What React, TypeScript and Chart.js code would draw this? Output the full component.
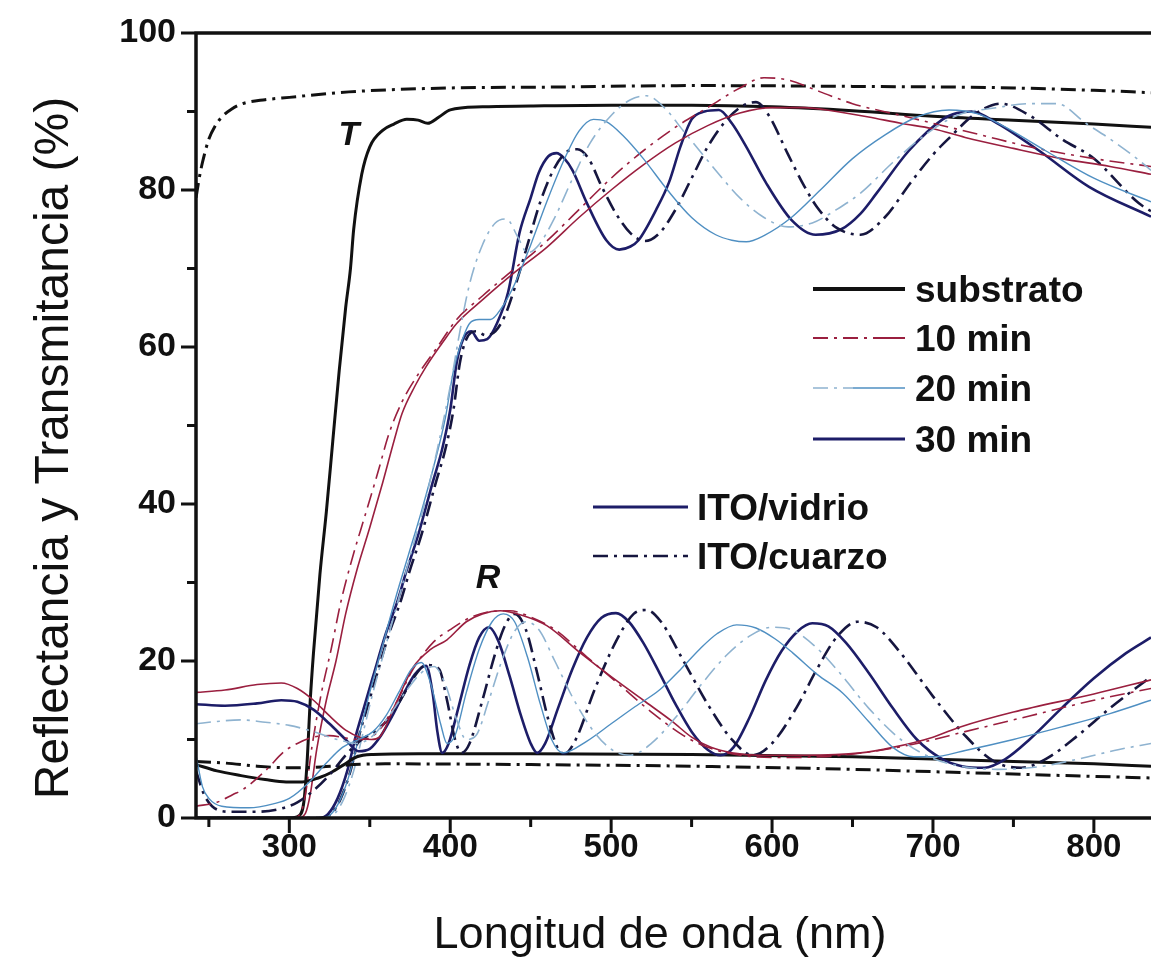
import React, { useEffect, useRef } from 'react';
import { Chart, registerables } from 'chart.js';

Chart.register(...registerables);

type Pt = [number, number];

// Axis values
const X_MIN = 242;
const X_MAX = 835.5;
const xTicks = [300, 400, 500, 600, 700, 800];
const xMinorTicks = [250, 350, 450, 550, 650, 750, 850];
const yTicks = [0, 20, 40, 60, 80, 100];
const yMinorTicks = [10, 30, 50, 70, 90];

const xTitle = 'Longitud de onda (nm)';
const yTitle = 'Reflectancia y Transmitancia (%)';
const legendTimes = ['substrato', '10 min', '20 min', '30 min'];
const legendSubstrates = ['ITO/vidrio', 'ITO/cuarzo'];

// ---------- Transmittance (T) ----------
const tSubGlass: Pt[] = [
  [242, 0], [300, 0], [306, 0.3], [309, 2], [311, 7], [313, 15], [315, 21], [319, 31], [323, 39],
  [327, 48], [331, 57], [335, 65], [338, 70], [340, 75], [345, 82], [350, 85.5], [358, 87.6],
  [365, 88.4], [373, 89], [380, 88.9], [386, 88.5], [393, 89.3], [400, 90.2], [420, 90.6],
  [450, 90.7], [500, 90.8], [550, 90.8], [600, 90.6], [650, 90.1], [700, 89.4], [750, 88.9],
  [800, 88.4], [835.5, 88],
];
const tSubQuartz: Pt[] = [
  [242, 79], [244, 81.5], [246, 83.5], [250, 86.5], [254, 88.2], [258, 89.3], [264, 90.3],
  [271, 91], [285, 91.5], [300, 91.8], [337, 92.5], [400, 93], [457, 93.1], [550, 93.3],
  [650, 93.2], [750, 93], [800, 92.7], [835.5, 92.4],
];
const t10Glass: Pt[] = [
  [242, 0], [305, 0], [310, 0.6], [313, 3], [317, 8.7], [323, 15], [329, 20], [335, 26], [342, 31.6],
  [350, 37], [358, 42.7], [365, 48], [370, 51.5], [378, 55], [385, 57.5], [395, 60.5], [404, 63],
  [420, 66], [440, 69.5], [460, 72.7], [480, 76.5], [500, 80], [520, 83.2], [540, 86], [560, 88.2],
  [580, 89.8], [600, 90.5], [620, 90.5], [640, 90], [660, 89.3], [680, 88.5], [700, 87.8],
  [720, 86.7], [750, 85.3], [780, 84], [810, 83], [835.5, 82],
];
const t10Quartz: Pt[] = [
  [242, 0], [302, 0], [307, 0.6], [310, 3], [314, 9], [320, 16], [326, 21.5], [332, 27.5], [339, 33],
  [347, 38.5], [355, 44], [362, 49], [370, 53], [380, 56.5], [392, 60], [404, 63.5], [420, 66.5],
  [440, 70], [460, 73.5], [480, 77.5], [500, 81.5], [520, 85], [540, 88], [560, 90.5], [580, 93],
  [595, 94.3], [610, 94], [630, 92.5], [650, 91], [680, 89.5], [700, 88.5], [730, 87], [760, 85.5],
  [800, 84], [835.5, 83],
];
const t20Glass: Pt[] = [
  [242, 0], [320, 0], [326, 0.5], [332, 2.5], [338, 6], [344, 11], [350, 16], [358, 22], [366, 28],
  [374, 33.5], [382, 39], [390, 45], [397, 51], [402, 57], [406, 60], [412, 63], [418, 63.5],
  [425, 63.5], [432, 65], [440, 68], [450, 73], [460, 78.5], [470, 83.5], [480, 87.5], [489, 89],
  [497, 88.7], [507, 87], [520, 84], [535, 80], [550, 76.5], [565, 74.3], [575, 73.6], [584, 73.4],
  [595, 74.2], [612, 76.5], [630, 80], [650, 84], [670, 87], [690, 89.3], [710, 90.2], [728, 89.7],
  [745, 88], [770, 85], [800, 81.5], [835.5, 78.5],
];
const t20Quartz: Pt[] = [
  [242, 0], [322, 0], [328, 0.5], [334, 2.5], [340, 6], [346, 11], [352, 16], [360, 22], [368, 28],
  [376, 34], [384, 40], [392, 47], [400, 55], [406, 62], [412, 68], [420, 73], [428, 75.8],
  [435, 76.3], [442, 74], [448, 72], [455, 73], [465, 76.5], [475, 81], [487, 86], [500, 89.5],
  [512, 91.5], [522, 92], [533, 90.5], [545, 87.5], [557, 84.5], [567, 82], [580, 79], [595, 76.5],
  [610, 75.3], [625, 75.8], [640, 77.5], [655, 79.6], [675, 83.5], [695, 87], [715, 89.5],
  [740, 90.5], [760, 91], [777, 91], [795, 88.5], [810, 86.5], [828, 83.8], [835.5, 82.5],
];
const t30Glass: Pt[] = [
  [242, 0], [318, 0], [324, 0.5], [330, 2.5], [336, 6], [342, 11], [346, 13.8], [352, 18], [360, 23.5],
  [367, 27.5], [373, 31.6], [380, 36], [389, 42.7], [395, 47], [400, 52], [404, 58], [408, 61],
  [413, 62], [418, 60.8], [423, 61], [429, 63], [436, 67], [443, 74.5], [450, 79], [455, 82.2],
  [461, 84.3], [466, 84.7], [471, 84], [476, 82.5], [485, 78.3], [497, 73.6], [505, 72.4],
  [512, 72.8], [517, 73.6], [528, 77.5], [536, 81], [543, 85.5], [550, 89], [558, 90], [567, 90.2],
  [575, 88.5], [584, 85.5], [596, 81], [612, 76.2], [627, 74.3], [643, 75], [655, 77], [665, 79.6],
  [685, 85], [706, 89], [715, 89.8], [724, 90], [740, 88.5], [766, 85], [797, 80.4], [835.5, 76.6],
];
const t30Quartz: Pt[] = [
  [242, 0], [320, 0], [326, 0.5], [332, 2.5], [338, 6], [344, 11], [348, 13.8], [354, 18], [362, 23.5],
  [369, 27.5], [375, 31.6], [382, 36], [391, 42.7], [397, 47], [402, 52], [406, 58], [410, 61],
  [416, 62], [422, 61.5], [428, 62], [434, 64], [440, 67.5], [448, 73], [456, 78.5], [464, 82.5],
  [472, 84.8], [479, 85.2], [486, 84], [494, 80.5], [503, 77], [512, 74.5], [521, 73.5], [530, 74.5],
  [540, 77.5], [550, 81.5], [560, 85.5], [570, 88.5], [580, 90.5], [590, 91.2], [598, 89.5],
  [610, 84.5], [620, 80.5], [628, 77.8], [640, 75.2], [655, 74.3], [670, 76.5], [686, 80.9],
  [700, 84.5], [711, 86.8], [725, 89.5], [742, 91], [760, 89.5], [780, 86.5], [800, 84],
  [828, 78.3], [835.5, 77.3],
];

// ---------- Reflectance (R) ----------
const rSubGlass: Pt[] = [
  [242, 6.8], [255, 6], [270, 5.4], [285, 4.9], [298, 4.6], [308, 4.6], [318, 5.1], [326, 5.8],
  [334, 6.8], [342, 7.8], [352, 8.1], [380, 8.2], [450, 8.2], [550, 8.1], [650, 7.8], [700, 7.5],
  [750, 7.2], [800, 6.9], [835.5, 6.6],
];
const rSubQuartz: Pt[] = [
  [242, 7.2], [260, 7], [280, 6.6], [300, 6.4], [320, 6.5], [340, 6.8], [360, 6.9], [450, 6.8],
  [550, 6.6], [650, 6.2], [700, 5.9], [750, 5.6], [800, 5.3], [835.5, 5.1],
];
const r10Glass: Pt[] = [
  [242, 16], [260, 16.3], [280, 17], [295, 17.2], [305, 16.5], [315, 15], [325, 13], [335, 11.2],
  [345, 10.2], [351, 10], [356, 10.3], [366, 14.5], [377, 19.2], [388, 21.5], [398, 22.7],
  [410, 25], [420, 26], [431, 26.4], [445, 25.8], [460, 24.5], [481, 21], [500, 18], [520, 15],
  [538, 12.3], [550, 10.3], [562, 9], [575, 8.3], [592, 8], [620, 8], [655, 8.3], [675, 9],
  [700, 10.3], [717, 11.6], [750, 13.5], [800, 15.8], [835.5, 17.6],
];
const r10Quartz: Pt[] = [
  [242, 1.5], [255, 2], [265, 3], [271, 3.6], [285, 6], [297, 8.5], [305, 9.5], [315, 10.3],
  [325, 10.5], [335, 10.2], [345, 10], [355, 11], [366, 14.5], [377, 19], [390, 22.5], [400, 24],
  [412, 25.5], [425, 26.3], [437, 26.4], [450, 25.6], [465, 24], [485, 20.5], [505, 17],
  [525, 13.5], [545, 10.5], [560, 9], [580, 8], [600, 7.7], [630, 7.8], [660, 8.4], [690, 9.5],
  [720, 11], [760, 13], [800, 15], [835.5, 16.5],
];
const r20Glass: Pt[] = [
  [242, 8], [246, 4], [250, 2.5], [258, 1.5], [275, 1.3], [290, 1.8], [300, 2.5], [312, 4.5],
  [323, 7], [333, 9], [343, 10], [352, 11], [360, 13], [368, 16], [376, 19], [382, 19.8], [388, 17],
  [394, 12], [398, 9.5], [403, 10.5], [410, 16], [418, 21.5], [426, 25], [433, 26], [440, 25],
  [448, 20.5], [456, 14.5], [463, 10], [470, 8.3], [485, 9.8], [500, 12], [515, 14.2], [530, 16.3],
  [543, 18.9], [555, 21.5], [566, 23.5], [578, 24.6], [590, 24.2], [602, 22.8], [613, 21],
  [628, 18.3], [644, 15.9], [660, 12.3], [675, 9], [688, 7.8], [700, 7.8], [720, 8.6], [750, 10],
  [780, 11.6], [810, 13.3], [835.5, 15],
];
const r20Quartz: Pt[] = [
  [242, 12], [255, 12.3], [270, 12.5], [285, 12.2], [300, 11.8], [315, 11], [330, 10], [342, 9.5],
  [352, 10.5], [362, 13], [372, 16], [382, 18.5], [390, 19.3], [397, 17], [404, 12.5], [410, 10],
  [416, 10.5], [424, 15], [432, 20], [440, 23.8], [447, 25], [455, 24], [465, 20], [477, 15],
  [490, 10.8], [502, 8.5], [512, 8], [525, 9.5], [540, 12.8], [556, 17], [572, 20.8], [587, 23.3],
  [600, 24.3], [612, 24], [626, 22], [642, 18.5], [660, 14], [680, 10], [700, 7.6], [720, 6.5],
  [740, 6.2], [765, 6.5], [790, 7.5], [815, 8.7], [835.5, 9.5],
];
const r30Glass: Pt[] = [
  [242, 14.5], [260, 14.3], [280, 14.6], [295, 15], [305, 14.8], [315, 13.8], [325, 12], [335, 10],
  [343, 8.5], [350, 8.8], [357, 10.5], [364, 13], [371, 15.8], [378, 18.3], [385, 19.4], [389, 16],
  [392, 11], [395, 8.3], [399, 9.5], [405, 14], [412, 19.5], [418, 23], [424, 24.3], [430, 22.5],
  [437, 18], [444, 13], [450, 9.5], [454, 8.3], [459, 9.5], [467, 14], [476, 19], [485, 23],
  [494, 25.5], [503, 26.1], [511, 25], [520, 22.3], [530, 18.5], [540, 14.5], [550, 11], [560, 8.7],
  [568, 8], [576, 9], [586, 12.8], [596, 17.5], [606, 21.3], [616, 23.8], [625, 24.8], [635, 24.4],
  [646, 22.3], [660, 18.5], [675, 14], [690, 10], [705, 7.6], [718, 6.6], [732, 6.4], [745, 7.5],
  [760, 10], [780, 14], [800, 17.8], [820, 21], [835.5, 23],
];
const r30Quartz: Pt[] = [
  [242, 6], [247, 3], [252, 1.5], [262, 0.8], [280, 0.8], [295, 1.2], [305, 2], [315, 3.5],
  [325, 5.5], [335, 8], [345, 10], [353, 11], [361, 12.5], [369, 15], [377, 17.8], [385, 19.5],
  [393, 19], [398, 15], [403, 10], [407, 8.3], [412, 9.5], [420, 15], [428, 21], [434, 24.5],
  [440, 26], [447, 24], [454, 18.5], [461, 12.5], [467, 8.8], [471, 8.2], [478, 10], [490, 16.5],
  [503, 22.5], [514, 26], [522, 26.5], [531, 25], [545, 20], [560, 14.5], [575, 10], [588, 8],
  [600, 9.5], [615, 14], [628, 19], [640, 23], [653, 25], [665, 24.3], [680, 21], [700, 15.5],
  [720, 10.5], [738, 7.2], [755, 6.4], [770, 7.5], [790, 10.5], [810, 14], [835.5, 18],
];

const BLACK = '#111111';
const MAROON = '#9a1f3f';
const TEAL = '#4f8fc2';
const TEAL_LIGHT = '#8fb3d0';
const NAVY = '#1d1d68';
const NAVY_DARK = '#16163f';
const DASHDOT = [15, 6, 3, 6];
const FONT = '"Liberation Sans", Arial, Helvetica, sans-serif';

type SeriesDef = { label: string; pts: Pt[]; color: string; width: number; dash: number[] };

const series: SeriesDef[] = [
  { label: 'R 20 min cuarzo', pts: r20Quartz, color: TEAL_LIGHT, width: 1.6, dash: DASHDOT },
  { label: 'R 20 min vidrio', pts: r20Glass, color: TEAL, width: 1.4, dash: [] },
  { label: 'R 10 min cuarzo', pts: r10Quartz, color: MAROON, width: 1.6, dash: DASHDOT },
  { label: 'R 10 min vidrio', pts: r10Glass, color: MAROON, width: 1.6, dash: [] },
  { label: 'R 30 min cuarzo', pts: r30Quartz, color: NAVY_DARK, width: 2.6, dash: DASHDOT },
  { label: 'R 30 min vidrio', pts: r30Glass, color: NAVY, width: 2.6, dash: [] },
  { label: 'R substrato cuarzo', pts: rSubQuartz, color: BLACK, width: 3, dash: DASHDOT },
  { label: 'R substrato vidrio', pts: rSubGlass, color: BLACK, width: 3, dash: [] },
  { label: 'T 20 min cuarzo', pts: t20Quartz, color: TEAL_LIGHT, width: 1.6, dash: DASHDOT },
  { label: 'T 20 min vidrio', pts: t20Glass, color: TEAL, width: 1.4, dash: [] },
  { label: 'T 10 min cuarzo', pts: t10Quartz, color: MAROON, width: 1.6, dash: DASHDOT },
  { label: 'T 10 min vidrio', pts: t10Glass, color: MAROON, width: 1.6, dash: [] },
  { label: 'T 30 min cuarzo', pts: t30Quartz, color: NAVY_DARK, width: 2.6, dash: DASHDOT },
  { label: 'T 30 min vidrio', pts: t30Glass, color: NAVY, width: 2.6, dash: [] },
  { label: 'T substrato cuarzo', pts: tSubQuartz, color: BLACK, width: 3, dash: DASHDOT },
  { label: 'T substrato vidrio', pts: tSubGlass, color: BLACK, width: 3, dash: [] },
];

const decorPlugin = {
  id: 'decor',
  afterDraw(chart: any) {
    const { ctx, chartArea: a, scales } = chart;
    const xs = scales.x;
    const ys = scales.y;
    ctx.save();
    ctx.strokeStyle = BLACK;
    ctx.fillStyle = BLACK;
    ctx.lineCap = 'butt';
    ctx.setLineDash([]);

    // axes lines
    ctx.lineWidth = 3.5;
    ctx.beginPath();
    ctx.moveTo(a.left, a.top - 1.5);
    ctx.lineTo(a.left, a.bottom + 1.5);
    ctx.moveTo(a.left, a.bottom);
    ctx.lineTo(a.right, a.bottom);
    ctx.moveTo(a.left, a.top);
    ctx.lineTo(a.right, a.top);
    ctx.stroke();

    // ticks
    ctx.lineWidth = 3;
    ctx.beginPath();
    yTicks.forEach((v) => {
      const p = ys.getPixelForValue(v);
      ctx.moveTo(a.left - 15, p);
      ctx.lineTo(a.left, p);
    });
    yMinorTicks.forEach((v) => {
      const p = ys.getPixelForValue(v);
      ctx.moveTo(a.left - 9, p);
      ctx.lineTo(a.left, p);
    });
    xTicks.forEach((v) => {
      const p = xs.getPixelForValue(v);
      ctx.moveTo(p, a.bottom);
      ctx.lineTo(p, a.bottom + 15);
    });
    xMinorTicks.forEach((v) => {
      if (v < X_MIN || v > X_MAX) return;
      const p = xs.getPixelForValue(v);
      ctx.moveTo(p, a.bottom);
      ctx.lineTo(p, a.bottom + 9);
    });
    ctx.stroke();

    // axis titles
    ctx.textAlign = 'center';
    ctx.textBaseline = 'middle';
    ctx.font = `45px ${FONT}`;
    ctx.fillText(xTitle, 660, 936);
    ctx.save();
    ctx.translate(55, 448);
    ctx.rotate(-Math.PI / 2);
    ctx.font = `48px ${FONT}`;
    ctx.fillText(yTitle, 0, 0);
    ctx.restore();

    // T / R annotations
    ctx.font = `italic bold 34px ${FONT}`;
    ctx.fillText('T', 349, 136);
    ctx.fillText('R', 488, 579);

    const drawSeg = (x1: number, x2: number, yy: number, color: string, w: number, dash: number[]) => {
      ctx.save();
      ctx.strokeStyle = color;
      ctx.lineWidth = w;
      ctx.setLineDash(dash);
      ctx.beginPath();
      ctx.moveTo(x1, yy);
      ctx.lineTo(x2, yy);
      ctx.stroke();
      ctx.restore();
    };

    // legend 1
    const ly = [289, 338, 388, 439];
    drawSeg(813, 905, ly[0], BLACK, 4, []);
    drawSeg(813, 878, ly[1], MAROON, 2, DASHDOT);
    drawSeg(878, 905, ly[1], MAROON, 2, []);
    drawSeg(813, 853, ly[2], TEAL_LIGHT, 1.6, DASHDOT);
    drawSeg(853, 905, ly[2], TEAL, 1.6, []);
    drawSeg(813, 905, ly[3], NAVY, 2.8, []);
    ctx.font = `bold 37px ${FONT}`;
    ctx.textAlign = 'left';
    ctx.textBaseline = 'middle';
    ctx.fillStyle = BLACK;
    legendTimes.forEach((t, i) => ctx.fillText(t, 915, ly[i] + 3));

    // legend 2
    const ly2 = [507, 556];
    drawSeg(593, 688, ly2[0], NAVY, 2.8, []);
    drawSeg(593, 688, ly2[1], NAVY_DARK, 2.6, DASHDOT);
    legendSubstrates.forEach((t, i) => ctx.fillText(t, 697, ly2[i] + 3));

    ctx.restore();
  },
};

export default function App() {
  const ref = useRef<HTMLCanvasElement | null>(null);

  useEffect(() => {
    if (!ref.current) return;
    const chart = new Chart(ref.current, {
      type: 'line',
      data: {
        datasets: series.map((s) => ({
          label: s.label,
          data: s.pts.map(([x, y]) => ({ x, y })),
          borderColor: s.color,
          borderWidth: s.width,
          borderDash: s.dash,
          pointRadius: 0,
          fill: false,
          cubicInterpolationMode: 'monotone' as const,
        })),
      },
      options: {
        animation: false,
        responsive: false,
        devicePixelRatio: 1,
        layout: { padding: { top: 33, right: 0, left: 0, bottom: 0 } },
        plugins: { legend: { display: false }, tooltip: { enabled: false } },
        scales: {
          x: {
            type: 'linear',
            min: X_MIN,
            max: X_MAX,
            afterBuildTicks: (scale: any) => {
              scale.ticks = xTicks.map((v) => ({ value: v }));
            },
            afterFit: (scale: any) => {
              scale.height = 152;
            },
            grid: { display: false, drawTicks: true, tickLength: 10 },
            border: { display: false },
            ticks: {
              padding: 0,
              color: BLACK,
              font: { family: FONT, size: 33, weight: 'bold' },
              maxRotation: 0,
              autoSkip: false,
            },
          },
          y: {
            min: 0,
            max: 100,
            afterBuildTicks: (scale: any) => {
              scale.ticks = yTicks.map((v) => ({ value: v }));
            },
            afterFit: (scale: any) => {
              scale.width = 196;
            },
            grid: { display: false, drawTicks: true, tickLength: 14 },
            border: { display: false },
            ticks: {
              padding: 6,
              color: BLACK,
              font: { family: FONT, size: 34, weight: 'bold' },
            },
          },
        },
      },
      plugins: [decorPlugin],
    });
    return () => chart.destroy();
  }, []);

  return (
    <div style={{ position: 'absolute', left: 0, top: 0, width: 1151, height: 970, background: '#fff' }}>
      <canvas ref={ref} width={1151} height={970} style={{ display: 'block' }} />
    </div>
  );
}
